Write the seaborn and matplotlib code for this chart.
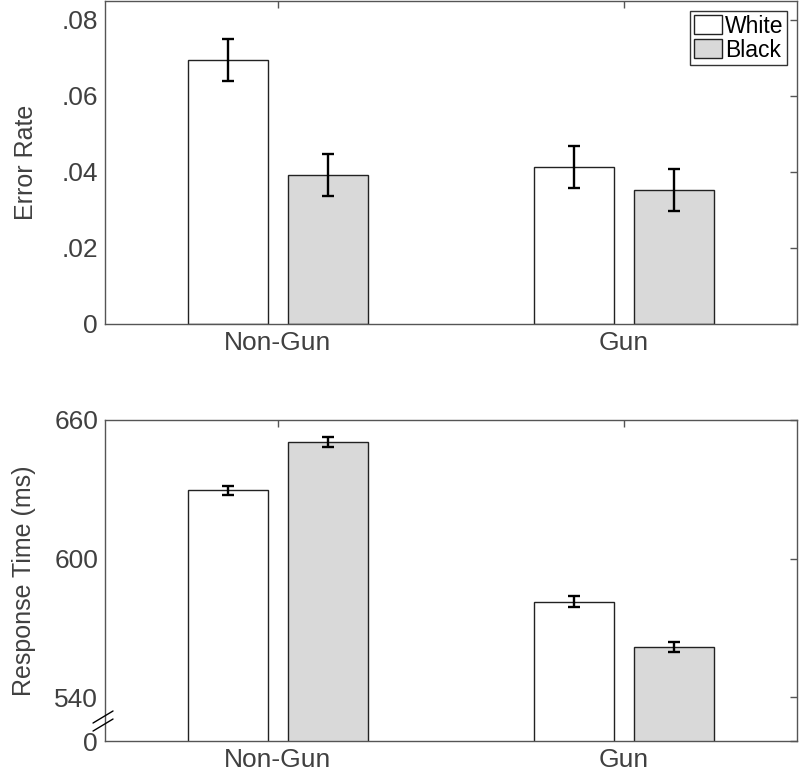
import pandas as pd
import matplotlib
matplotlib.use("Agg")
import matplotlib.pyplot as plt
from matplotlib.ticker import FuncFormatter
import seaborn as sns

# =====================
# Data
# =====================
targets = ["Non-Gun", "Gun"]
races = ["White", "Black"]

error_white = [0.0695, 0.0412]
error_black = [0.0392, 0.0353]
error_white_se = [0.0055, 0.0055]
error_black_se = [0.0055, 0.0055]

rt_white = [629.6, 581.3]
rt_black = [650.4, 561.7]
rt_white_se = [2.0, 2.3]
rt_black_se = [2.3, 2.3]

rt_ticks = [540, 600, 660]

# =====================
# Style
# =====================
sns.set_theme(style="white")
plt.rcParams["font.family"] = ["Liberation Sans", "DejaVu Sans"]
text_col = "#404040"
spine_col = "#555555"
plt.rcParams.update({
    "text.color": text_col,
    "axes.labelcolor": text_col,
    "xtick.color": spine_col,
    "ytick.color": spine_col,
    "xtick.labelcolor": text_col,
    "ytick.labelcolor": text_col,
    "axes.edgecolor": spine_col,
    "axes.linewidth": 1.0,
})

palette = {"White": "white", "Black": "#d9d9d9"}

df_err = pd.DataFrame({
    "Target": targets * 2,
    "Race": ["White"] * 2 + ["Black"] * 2,
    "Value": error_white + error_black,
})
df_rt = pd.DataFrame({
    "Target": targets * 2,
    "Race": ["White"] * 2 + ["Black"] * 2,
    "Value": rt_white + rt_black,
})
errs_err = {"White": error_white_se, "Black": error_black_se}
errs_rt = {"White": rt_white_se, "Black": rt_black_se}

fig = plt.figure(figsize=(7.99, 7.76), dpi=100)
ax1 = fig.add_axes([0.1314, 0.5825, 0.8661, 0.4165])
ax2 = fig.add_axes([0.1314, 0.0451, 0.8661, 0.4137])


def draw_panel(ax, df, errs):
    sns.barplot(data=df, x="Target", y="Value", hue="Race", hue_order=races,
                order=targets, palette=palette, edgecolor="#222222",
                linewidth=1.0, width=0.58, gap=0.207, errorbar=None, ax=ax)
    for cont, race in zip(ax.containers, races):
        for bar, e in zip(cont, errs[race]):
            ax.errorbar(bar.get_x() + bar.get_width() / 2, bar.get_height(),
                        yerr=e, fmt="none", ecolor="black", elinewidth=1.7,
                        capsize=4.5, capthick=1.7, zorder=5)
    ax.set_xlim(-0.5, 1.5)
    ax.set_xlabel("")
    ax.tick_params(axis="both", which="both", direction="in", length=5,
                   top=True, right=True, labelsize=19, width=1)
    ax.tick_params(axis="x", pad=5)
    ax.tick_params(axis="y", pad=5)
    for s in ax.spines.values():
        s.set_visible(True)
        s.set_color(spine_col)


# =====================
# Top panel: error rate
# =====================
draw_panel(ax1, df_err, errs_err)
ax1.set_ylim(0, 0.085)
ax1.set_yticks([0, 0.02, 0.04, 0.06, 0.08])
ax1.yaxis.set_major_formatter(
    FuncFormatter(lambda v, p: "0" if abs(v) < 1e-9 else f"{v:.2f}".lstrip("0")))
ax1.set_ylabel("Error Rate", fontsize=18)
ax1.yaxis.set_label_coords(-0.097, 0.5)
handles, labels = ax1.get_legend_handles_labels()
leg = ax1.legend(handles, labels, loc="upper right", fontsize=16.5, frameon=True,
                 fancybox=False, edgecolor="#333333", framealpha=1,
                 handlelength=1.25, handleheight=0.9, handletextpad=0.1,
                 labelspacing=0.05, borderpad=0.15, borderaxespad=0.45)
for t in leg.get_texts():
    t.set_color("black")

# =====================
# Bottom panel: response time (broken axis)
# =====================
draw_panel(ax2, df_rt, errs_rt)
ax2.get_legend().remove()
ax2.set_ylim(521, 660)
ax2.set_yticks([521] + rt_ticks)
ax2.set_yticklabels(["0"] + [str(t) for t in rt_ticks])
ax2.set_ylabel("Response Time (ms)", fontsize=18)
ax2.yaxis.set_label_coords(-0.100, 0.5)

# axis-break marks
for dy in (0.0, -0.025):
    ax2.plot([-0.0173, 0.0116], [0.056 + dy, 0.0935 + dy], color="black",
             lw=1.0, transform=ax2.transAxes, clip_on=False, zorder=10)

fig.savefig("out.png", dpi=100)
